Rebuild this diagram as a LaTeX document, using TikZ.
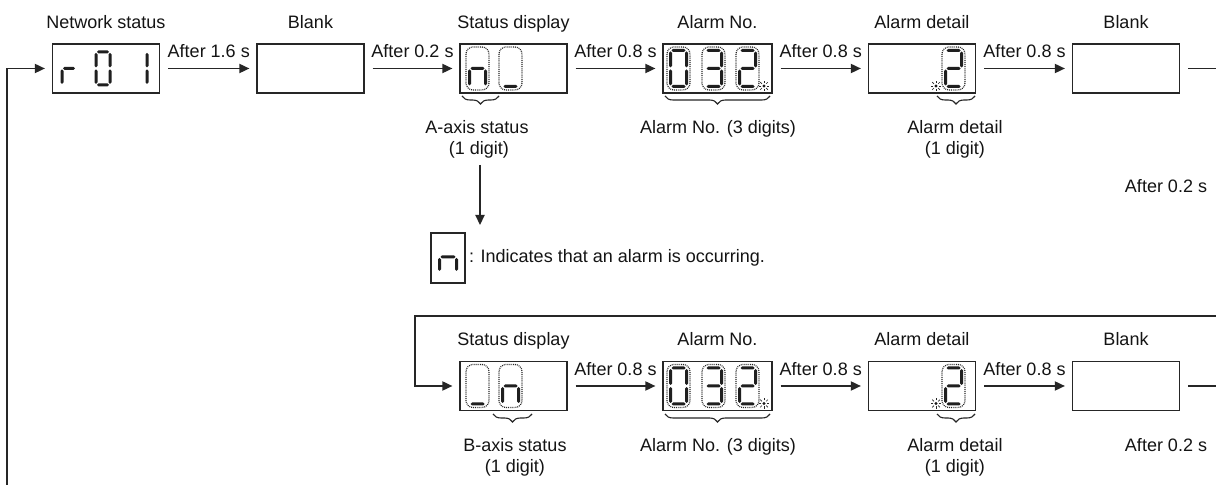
\documentclass[tikz,border=0pt]{standalone}
\usepackage{fontspec}
\setmainfont{Liberation Sans}
\usetikzlibrary{arrows.meta,decorations.pathreplacing}

\tikzset{
 box/.style={draw=black!85, line width=0.65pt, minimum width=53.5pt, minimum height=24.5pt, inner sep=0pt, fill=white},
 arr/.style={draw=black!85, line width=0.65pt, -{Triangle[length=5pt,width=4.6pt]}},
 ln/.style={draw=black!85, line width=0.65pt},
 lab/.style={font=\fontsize{9}{11}\selectfont, inner sep=0pt, text=black!92, anchor=base},
 brc/.style={draw=black!85, line width=0.55pt, decorate, decoration={brace, mirror, amplitude=4pt}},
 dotc/.style={draw=black!85, line width=0.6pt, dash pattern=on 0.45pt off 0.5pt, rounded corners=3.5pt},
 segc/.style={fill=black!88},
}

% hexagonal segments (pixel units, y downwards)
\newcommand\hsg[3]{\fill[segc] ({#1},{#3}) -- ({#1+1.5},{#3-1.5}) -- ({#2-1.5},{#3-1.5}) -- ({#2},{#3}) -- ({#2-1.5},{#3+1.5}) -- ({#1+1.5},{#3+1.5}) -- cycle;}
\newcommand\vsg[3]{\fill[segc] ({#1},{#2}) -- ({#1+1.5},{#2+1.5}) -- ({#1+1.5},{#3-1.5}) -- ({#1},{#3}) -- ({#1-1.5},{#3-1.5}) -- ({#1-1.5},{#2+1.5}) -- cycle;}
\newcommand\sga[4]{\hsg{#1+1}{#1+#3-1}{#2}}
\newcommand\sgb[4]{\vsg{#1+#3}{#2+1}{#2+#4/2-1}}
\newcommand\sgc[4]{\vsg{#1+#3}{#2+#4/2+1}{#2+#4-1}}
\newcommand\sgd[4]{\hsg{#1+1}{#1+#3-1}{#2+#4}}
\newcommand\sge[4]{\vsg{#1}{#2+#4/2+1}{#2+#4-1}}
\newcommand\sgf[4]{\vsg{#1}{#2+1}{#2+#4/2-1}}
\newcommand\sgg[4]{\hsg{#1+1}{#1+#3-1}{#2+#4/2}}
\newcommand\sdig[5]{\foreach \s in {#5}{\csname sg\s\endcsname{#1}{#2}{#3}{#4}}}
\newcommand\dcell[3]{\draw[dotc] (#1,#2) rectangle ({#1+23},{#2+43}); \sdig{#1+3.5}{#2+3.5}{16}{36}{#3}}
\newcommand\spark[2]{\fill[black!90] (#1,#2) circle[radius=0.85pt];
 \foreach \a in {0,45,...,315}{\draw[black!85,line width=0.35pt] ([shift={(\a:1.5pt)}]#1,#2) -- ([shift={(\a:2.7pt)}]#1,#2);}}

\begin{document}
\begin{tikzpicture}[x=0.5pt,y=-0.5pt]
\useasboundingbox (0,0) rectangle (1216,485);
\fill[white] (0,0) rectangle (1216,485);

% ---------- top row ----------
\node[lab] (t1) at (106,29) {Network status};
\node[lab] (t2) at (310.5,29) {Blank};
\node[lab] (t3) at (513.5,29) {Status display};
\node[lab] (t4) at (717.5,29) {Alarm No.};
\node[lab] (t5) at (922,29) {Alarm detail};
\node[lab] (t6) at (1126,29) {Blank};

\node[box] (ns) at (106,68.5) {};
\node[box] (b1) at (310.5,68.5) {};
\node[box] (st) at (513.5,68.5) {};
\node[box, minimum width=54.5pt] (an) at (717.5,68.5) {};
\node[box] (ad) at (922,68.5) {};
\node[box] (b2) at (1126,68.5) {};

\draw[arr] ([xshift=4pt]ns.east) -- node[lab, yshift=5.25pt] (a1) {After 1.6 s} ([xshift=-3.5pt]b1.west);
\draw[arr] ([xshift=4pt]b1.east) -- node[lab, yshift=5.25pt] (a2) {After 0.2 s} ([xshift=-3.5pt]st.west);
\draw[arr] ([xshift=4pt]st.east) -- node[lab, yshift=5.25pt] (a3) {After 0.8 s} ([xshift=-3.5pt]an.west);
\draw[arr] ([xshift=4pt]an.east) -- node[lab, yshift=5.25pt] (a4) {After 0.8 s} ([xshift=-3.5pt]ad.west);
\draw[arr] ([xshift=4pt]ad.east) -- node[lab, yshift=5.25pt] (a5) {After 0.8 s} ([xshift=-3.5pt]b2.west);
\coordinate (rA) at (1216,68.5);
\draw[ln] ([xshift=4pt]b2.east) -- (rA);

% network status digits r 0 1
\sdig{62}{52}{14}{33}{e,g}
\sdig{96}{52}{14}{33}{a,b,c,d,e,f}
\sdig{133}{52}{14}{33}{b,c}

% status display
\dcell{466}{47}{c,e,g}
\dcell{499}{47}{d}
% alarm no 032
\dcell{667}{47}{a,b,c,d,e,f}
\dcell{702}{47}{a,b,c,d,g}
\dcell{736}{47}{a,b,g,e,d}
\spark{764}{86}
% alarm detail 2
\dcell{942}{47}{a,b,g,e,d}
\spark{936}{86}

% braces top
\draw[brc] (462,96) -- (499,96);
\draw[brc] (665,96) -- (770,96);
\draw[brc] (937,96) -- (975,96);

\node[lab] (sa1) at (477,133.5) {A-axis status};
\node[lab] (sa2) at (479,155) {(1 digit)};
\node[lab] (sn1) at (718,133.5) {Alarm No. (3 digits)};
\node[lab] (sd1) at (955,133.5) {Alarm detail};
\node[lab] (sd2) at (955,155) {(1 digit)};
\node[lab] (r1) at (1166,193) {After 0.2 s};

% vertical arrow + legend
\coordinate (v1) at (480,165);
\coordinate (v2) at (480,225);
\draw[arr] (v1) -- (v2);
\node[box, minimum width=17pt, minimum height=25pt] (lg) at (448,258) {};
\sdig{439.5}{242}{17}{30}{c,e,g}
\node[lab, anchor=west] (lgt) at ([xshift=1.5pt]lg.east) {: Indicates that an alarm is occurring.};

% ---------- bottom row ----------
\coordinate (lpR) at (1216,316);
\coordinate (lpL) at (415,316);

\node[lab] (u3) at (513.5,346) {Status display};
\node[lab] (u4) at (717.5,346) {Alarm No.};
\node[lab] (u5) at (922,346) {Alarm detail};
\node[lab] (u6) at (1126,346) {Blank};

\node[box] (stb) at (513.5,386) {};
\node[box, minimum width=54.5pt] (anb) at (717.5,386) {};
\node[box] (adb) at (922,386) {};
\node[box] (b2b) at (1126,386) {};

\draw[arr] (lpR) -- (lpL) |- ([xshift=-3.5pt]stb.west);
\draw[arr] ([xshift=4pt]stb.east) -- node[lab, yshift=5.25pt] (c3) {After 0.8 s} ([xshift=-3.5pt]anb.west);
\draw[arr] ([xshift=4pt]anb.east) -- node[lab, yshift=5.25pt] (c4) {After 0.8 s} ([xshift=-3.5pt]adb.west);
\draw[arr] ([xshift=4pt]adb.east) -- node[lab, yshift=5.25pt] (c5) {After 0.8 s} ([xshift=-3.5pt]b2b.west);
\coordinate (rB) at (1216,386);
\draw[ln] ([xshift=4pt]b2b.east) -- (rB);

\dcell{466}{364.5}{d}
\dcell{499}{364.5}{c,e,g}
\dcell{667}{364.5}{a,b,c,d,e,f}
\dcell{702}{364.5}{a,b,c,d,g}
\dcell{736}{364.5}{a,b,g,e,d}
\spark{764}{403.5}
\dcell{942}{364.5}{a,b,g,e,d}
\spark{936}{403.5}

\draw[brc] (493,414) -- (532,414);
\draw[brc] (665,414) -- (770,414);
\draw[brc] (937,414) -- (975,414);

\node[lab] (sb1) at (515,452) {B-axis status};
\node[lab] (sb2) at (515,473) {(1 digit)};
\node[lab] (sn2) at (718,452) {Alarm No. (3 digits)};
\node[lab] (sd3) at (955,452) {Alarm detail};
\node[lab] (sd4) at (955,473) {(1 digit)};
\node[lab] (r2) at (1166,452) {After 0.2 s};

% left return loop
\coordinate (lb) at (7,485);
\draw[arr] (lb) |- ([xshift=-3.5pt]ns.west);
\end{tikzpicture}
\end{document}
